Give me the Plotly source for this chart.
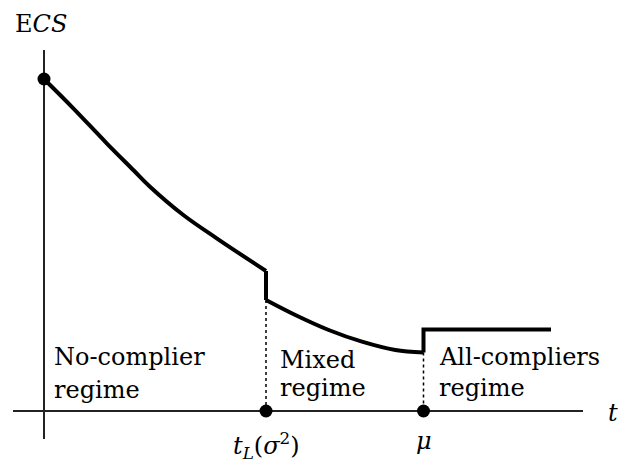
import plotly.graph_objects as go

# Expected compliance score E[CS] as a function of the threshold t
# Regime boundaries on the t axis
t_L = 2.22
mu = 3.795
t_end = 5.07

# No-complier regime (t < t_L)
t_no = [0.0, 0.293, 0.627, 0.893, 1.06, 1.393, 1.727, t_L]
ecs_no = [3.32, 3.027, 2.677, 2.41, 2.243, 1.96, 1.727, 1.40]

# Mixed regime (t_L <= t < mu)
t_mixed = [t_L, 2.513, 2.847, 3.18, 3.513, mu]
ecs_mixed = [1.11, 0.96, 0.81, 0.693, 0.61, 0.585]

# All-compliers regime (t >= mu): constant level
ecs_all = 0.815

# Axis extents
t_axis = [-0.31, 5.39]
ecs_axis = [-0.28, 3.61]

FONT = "DejaVu Serif"
BLACK = "#000000"
AXIS = "#222222"
LW = 4

fig = go.Figure()

# axes
fig.add_trace(go.Scatter(x=t_axis, y=[0, 0], mode="lines",
                         line=dict(color=AXIS, width=2), hoverinfo="skip"))
fig.add_trace(go.Scatter(x=[0, 0], y=ecs_axis, mode="lines",
                         line=dict(color=AXIS, width=2), hoverinfo="skip"))

# dotted guides at the regime boundaries
fig.add_trace(go.Scatter(x=[t_L, t_L], y=[ecs_mixed[0], 0], mode="lines",
                         line=dict(color=BLACK, width=1.5, dash="dot"), hoverinfo="skip"))
fig.add_trace(go.Scatter(x=[mu, mu], y=[ecs_mixed[-1], 0], mode="lines",
                         line=dict(color=BLACK, width=1.5, dash="dot"), hoverinfo="skip"))

# curve pieces
fig.add_trace(go.Scatter(x=t_no, y=ecs_no, mode="lines",
                         line=dict(color=BLACK, width=LW, shape="spline", smoothing=1.0),
                         hoverinfo="skip"))
fig.add_trace(go.Scatter(x=[t_L, t_L], y=[ecs_no[-1], ecs_mixed[0]], mode="lines",
                         line=dict(color=BLACK, width=LW), hoverinfo="skip"))
fig.add_trace(go.Scatter(x=t_mixed, y=ecs_mixed, mode="lines",
                         line=dict(color=BLACK, width=LW, shape="spline", smoothing=1.0),
                         hoverinfo="skip"))
fig.add_trace(go.Scatter(x=[mu, mu, t_end], y=[ecs_mixed[-1], ecs_all, ecs_all], mode="lines",
                         line=dict(color=BLACK, width=LW), hoverinfo="skip"))

# marked points
fig.add_trace(go.Scatter(x=[0, t_L, mu], y=[ecs_no[0], 0, 0], mode="markers",
                         marker=dict(color=BLACK, size=13), hoverinfo="skip"))

font = dict(family=FONT, size=24, color=BLACK)
annotations = [
    dict(x=-0.31, y=3.87, text="E<i>CS</i>", xanchor="left", yanchor="middle"),
    dict(x=5.69, y=-0.02, text="<i>t</i>", xanchor="center", yanchor="middle"),
    dict(x=t_L, y=-0.34, text="<i>t</i><sub><i>L</i></sub>(<i>σ</i><sup>2</sup>)",
         xanchor="center", yanchor="middle"),
    dict(x=mu, y=-0.30, text="<i>μ</i>", xanchor="center", yanchor="middle"),
    dict(x=0.08, y=0.54, text="No-complier", xanchor="left", yanchor="middle"),
    dict(x=0.08, y=0.21, text="regime", xanchor="left", yanchor="middle"),
    dict(x=2.34, y=0.51, text="Mixed", xanchor="left", yanchor="middle"),
    dict(x=2.34, y=0.23, text="regime", xanchor="left", yanchor="middle"),
    dict(x=3.93, y=0.545, text="All-compliers", xanchor="left", yanchor="middle"),
    dict(x=3.93, y=0.23, text="regime", xanchor="left", yanchor="middle"),
]
for a in annotations:
    a.update(xref="x", yref="y", showarrow=False, font=font)

fig.update_layout(
    width=625, height=473,
    margin=dict(l=0, r=0, t=0, b=0),
    paper_bgcolor="white", plot_bgcolor="white",
    font=dict(family=FONT, size=24, color=BLACK),
    showlegend=False,
    annotations=annotations,
    xaxis=dict(range=[-0.44, 5.81], visible=False, fixedrange=True),
    yaxis=dict(range=[-0.62, 4.11], visible=False, fixedrange=True),
)

fig.write_html("out.html")
